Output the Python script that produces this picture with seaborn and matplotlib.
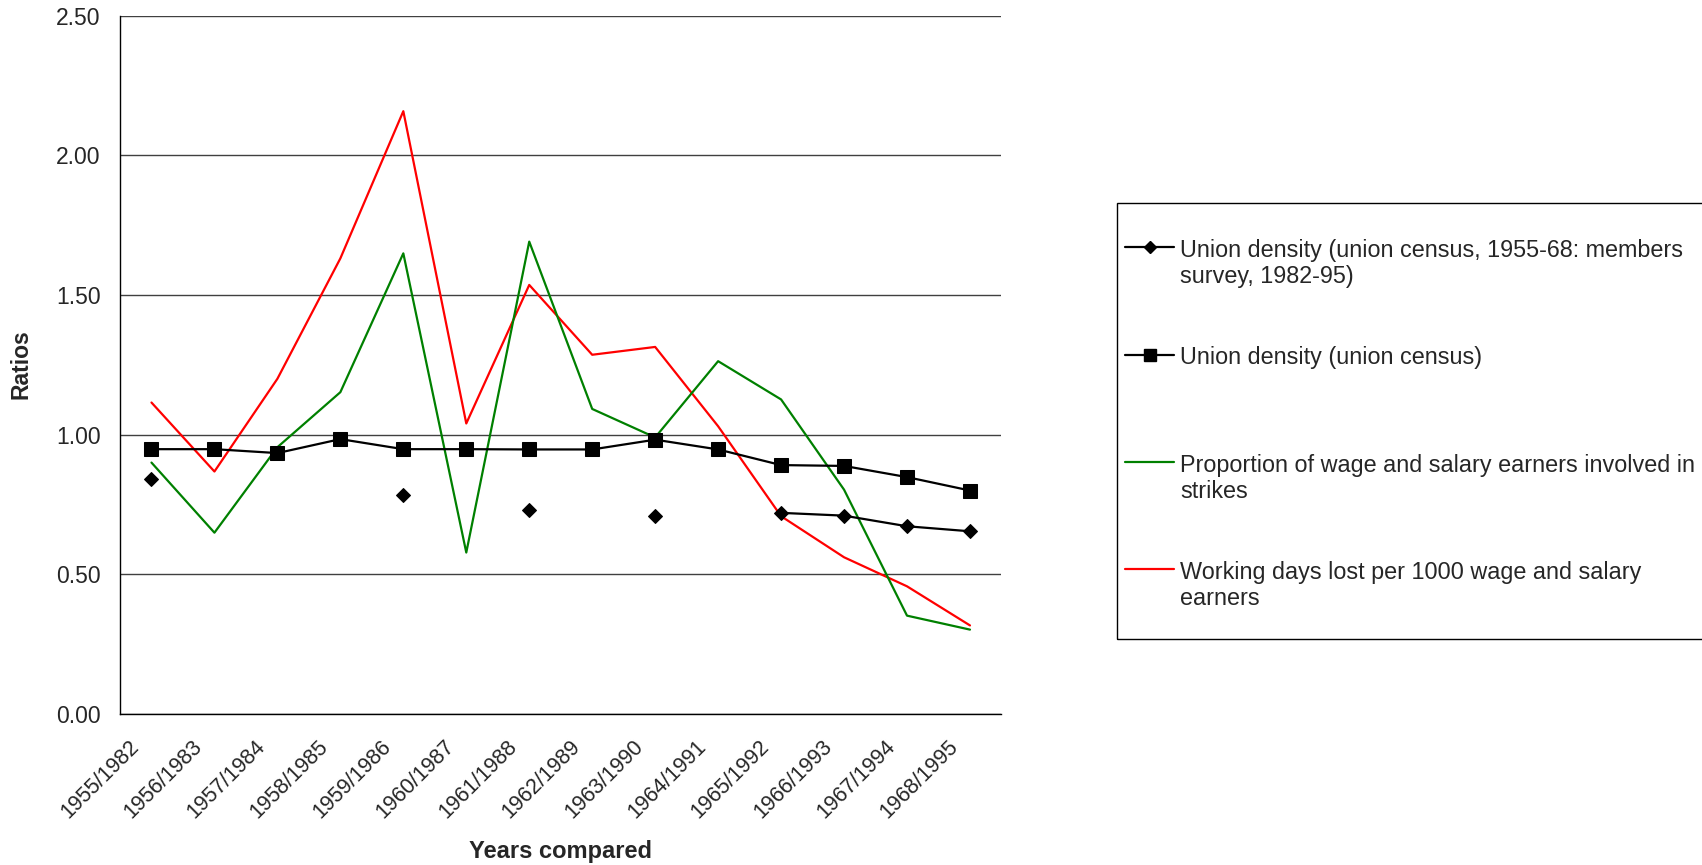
import numpy as np
import pandas as pd
import seaborn as sns
import matplotlib.pyplot as plt
from matplotlib.lines import Line2D
from matplotlib.patches import Rectangle
from matplotlib.ticker import FormatStrFormatter
import matplotlib.transforms as mtransforms

# Data
years = ['1955/1982', '1956/1983', '1957/1984', '1958/1985', '1959/1986',
         '1960/1987', '1961/1988', '1962/1989', '1963/1990', '1964/1991',
         '1965/1992', '1966/1993', '1967/1994', '1968/1995']
union_members = [0.84, np.nan, np.nan, np.nan, 0.785, np.nan, 0.73, np.nan,
                 0.71, np.nan, 0.72, 0.71, 0.672, 0.654]
union_census = [0.948, 0.948, 0.934, 0.984, 0.948, 0.948, 0.947, 0.947,
                0.982, 0.947, 0.891, 0.888, 0.848, 0.80]
strikes_prop = [0.90, 0.649, 0.955, 1.152, 1.649, 0.578, 1.691, 1.092,
                0.99, 1.263, 1.126, 0.803, 0.352, 0.302]
days_lost = [1.115, 0.868, 1.20, 1.631, 2.158, 1.040, 1.536, 1.286,
             1.314, 1.030, 0.708, 0.561, 0.457, 0.317]

# the blank second line on entry 2 keeps the legend rows evenly spaced
labels = ['Union density (union census, 1955-68: members\nsurvey, 1982-95)',
          'Union density (union census)\n ',
          'Proportion of wage and salary earners involved in\nstrikes',
          'Working days lost per 1000 wage and salary\nearners']

sns.set_style('white')
plt.rcParams['font.family'] = ['Liberation Sans', 'DejaVu Sans']

df = pd.DataFrame({'pos': np.arange(len(years)),
                   'members': union_members,
                   'census': union_census,
                   'strikes': strikes_prop,
                   'days': days_lost})
# gaps in the members survey series break the line
df['seg'] = df['members'].isna().cumsum()

fig = plt.figure(figsize=(17.02, 8.65), dpi=100)
ax = fig.add_axes([0.0705, 0.1746, 0.5179, 0.8073])

sns.lineplot(data=df, x='pos', y='days', color='#ff0000', lw=1.6, ax=ax)
sns.lineplot(data=df, x='pos', y='strikes', color='#008000', lw=1.6, ax=ax)
sns.lineplot(data=df, x='pos', y='census', color='black', lw=1.6, marker='s',
             markersize=9.5, markeredgecolor='black', ax=ax)
sns.lineplot(data=df.dropna(subset=['members']), x='pos', y='members', units='seg',
             estimator=None, color='black', lw=1.6, marker='D', markersize=7,
             markeredgecolor='black', ax=ax)

ax.set_xlim(-0.5, len(years) - 0.5)
ax.set_ylim(0, 2.5)
ax.set_yticks(np.arange(0, 2.51, 0.5))
ax.yaxis.set_major_formatter(FormatStrFormatter('%.2f'))
ax.yaxis.grid(True, color='#404040', lw=1)
ax.set_axisbelow(True)
for s in ['top', 'right']:
    ax.spines[s].set_visible(False)
for s in ['left', 'bottom']:
    ax.spines[s].set_color('black')
    ax.spines[s].set_linewidth(1)

ax.set_xticks(df['pos'])
ax.set_xticklabels(years, rotation=45, ha='right', va='center', rotation_mode='anchor')
ax.set_xticks(np.arange(-0.5, len(years), 1), minor=True)
ax.tick_params(axis='x', which='major', length=0, pad=21.5, labelsize=15.5)
ax.tick_params(axis='x', which='minor', length=4.5, width=1, color='black', direction='out')
ax.tick_params(axis='y', length=5, width=1, color='black', direction='out', pad=9, labelsize=16.5)
shift = mtransforms.ScaledTranslation(-0.15, 0, fig.dpi_scale_trans)
for lab in ax.get_xticklabels():
    lab.set_transform(lab.get_transform() + shift)

ax.set_xlabel('Years compared', fontsize=17, fontweight='bold')
ax.xaxis.set_label_coords(0.5, -0.181)
ax.set_ylabel('Ratios', fontsize=16.5, fontweight='bold')
ax.yaxis.set_label_coords(-0.099, 0.501)

handles = [Line2D([], [], color='black', lw=1.6, marker='D', markersize=6),
           Line2D([], [], color='black', lw=1.6, marker='s', markersize=8),
           Line2D([], [], color='#008000', lw=1.6),
           Line2D([], [], color='#ff0000', lw=1.6)]
leg = fig.legend(handles, labels, loc='upper left',
                 bbox_to_anchor=(1125 / 1702, 1 - 239 / 865),
                 bbox_transform=fig.transFigure, frameon=False, fontsize=16.8,
                 handlelength=2.1, handletextpad=0.26, labelspacing=2.5,
                 borderpad=0, borderaxespad=0)
for t in leg.get_texts():
    t.set_linespacing(1.17)
# put handles level with the first line of each label
for col in leg._legend_handle_box.get_children():
    for row in col.get_children():
        row.align = 'top'

fig.add_artist(Rectangle((1117 / 1702, 1 - 639 / 865), (1702 - 1117) / 1702 + 0.01,
                         (639 - 203) / 865, transform=fig.transFigure, fill=False,
                         edgecolor='black', lw=1, clip_on=False))

fig.savefig('out.png', dpi=100)
